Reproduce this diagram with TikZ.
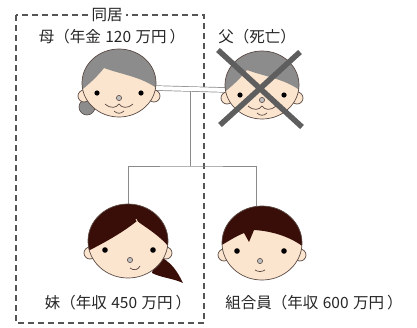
\documentclass[tikz,border=0pt]{standalone}
\usepackage{fontspec}
\usepackage{tikz}
\newfontfamily\jpfont{Noto Sans CJK JP}
\newcommand{\jpgap}{\hspace{4.5pt}}

\definecolor{skintone}{HTML}{FCE5CF}
\definecolor{faceline}{HTML}{5A4A44}
\definecolor{grayhair}{HTML}{8C8C8C}
\definecolor{darkhair}{HTML}{3A0E08}
\definecolor{kinline}{HTML}{8A8A8A}
\definecolor{crossgray}{HTML}{5E5E5E}
\definecolor{boxgray}{HTML}{555555}

\tikzset{
  skin/.style={fill=skintone, draw=faceline, line width=0.7pt},
  headspot/.style={circle, minimum size=#1, inner sep=0pt},
  headspot/.default=70pt,
  kin/.style={draw=kinline, line width=0.9pt},
  cohabit/.style={draw=boxgray, line width=1.3pt, dash pattern=on 6pt off 4pt},
  tag/.style={text=black!85, inner sep=1pt},
  feature/.style={draw=faceline, line width=0.7pt},
  nose/.style={fill=black!25, draw=faceline, line width=0.6pt},
  % old folks: grey hair and wrinkles
  elder/.pic={
    \draw[skin] (-35,13) circle (6pt) (35,13) circle (6pt);
    \fill[skintone] (0,0) ellipse [x radius=37pt, y radius=34pt];
    \begin{scope}
      \clip (0,0) ellipse [x radius=37pt, y radius=34pt];
      \fill[grayhair] (-40,9) -- (-40,-40) -- (40,-40) -- (40,7)
        .. controls (24,-6) and (4,-8) .. (-15,-15)
        .. controls (-22,-6) and (-32,3) .. (-40,9) -- cycle;
    \end{scope}
    \draw[faceline, line width=0.7pt] (0,0) ellipse [x radius=37pt, y radius=34pt];
    \fill (-22,10) circle (2.6pt) (22,10) circle (2.6pt);
    \draw[nose] (0,15) circle (2.6pt);
    \draw[feature] (-14,21) .. controls (-8,26) and (-3,25) .. (0,21)
      .. controls (3,25) and (8,26) .. (14,21);
    \draw[feature] (-5,28) .. controls (-2,31) and (2,31) .. (5,28);
  },
  bun/.pic={
    \draw[fill=grayhair, draw=faceline, line width=0.6pt] (-32,24) circle (8pt);
  },
  girl/.pic={
    % ponytail behind the head
    \fill[darkhair] (28,14) .. controls (44,20) and (50,32) .. (55,42)
      .. controls (44,37) and (34,37) .. (24,32) -- cycle;
    \draw[skin] (-38,12) circle (6pt) (38,12) circle (6pt);
    \fill[skintone] (0,0) ellipse [x radius=40pt, y radius=37pt];
    \begin{scope}
      \clip (0,0) ellipse [x radius=40pt, y radius=37pt];
      \fill[darkhair] (-44,12) -- (-44,-44) -- (44,-44) -- (44,10)
        .. controls (34,-4) and (20,-12) .. (9,-20)
        .. controls (-6,-8) and (-24,2) .. (-44,12) -- cycle;
      \draw[skintone, line width=0.8pt] (8,-22) .. controls (13,-12) and (19,-4) .. (24,2);
    \end{scope}
    \draw[faceline, line width=0.7pt] (0,0) ellipse [x radius=40pt, y radius=37pt];
    \fill (-23,9) circle (2.8pt) (25,9) circle (2.8pt);
    \draw[nose] (2,19) circle (2.6pt);
    \draw[feature] (2,27) .. controls (6,30) and (10,29) .. (12,25);
  },
  boy/.pic={
    \draw[skin] (-38,12) circle (6pt) (38,12) circle (6pt);
    \fill[skintone] (0,0) ellipse [x radius=40pt, y radius=37pt];
    \begin{scope}
      \clip (0,0) ellipse [x radius=40pt, y radius=37pt];
      \fill[darkhair] (-44,4) -- (-44,-44) -- (44,-44) -- (44,6)
        .. controls (30,-6) and (10,-12) .. (-8,-13) -- (-13,-1) -- (-18,-10)
        .. controls (-28,-6) and (-36,0) .. (-44,4) -- cycle;
    \end{scope}
    \draw[faceline, line width=0.7pt] (0,0) ellipse [x radius=40pt, y radius=37pt];
    \fill (-25,8) circle (2.8pt) (22,8) circle (2.8pt);
    \draw[nose] (-2,18) circle (2.6pt);
    \draw[feature] (-7,27) .. controls (-4,29) and (0,29) .. (3,27);
  },
}

\begin{document}
\begin{tikzpicture}[x=1pt, y=-1pt, font=\jpfont\fontsize{15.5}{18}\selectfont]
   \useasboundingbox (0,0) rectangle (417,327);

   % household
   \draw[cohabit] (16,15) rectangle (204,323);
   \node[tag, fill=white, inner xsep=3pt] (together) at (107,15) {同居};

   \node[headspot] (mother) at (119,83) {};
   \node[headspot] (father) at (262,85) {};
   \node[headspot=74pt] (sister) at (128,241) {};
   \node[headspot=74pt] (member) at (262,243) {};

   \node[tag] (motherlabel) at (112,37) {母（年金\jpgap 120\jpgap 万円\hspace{3pt}）};
   \node[tag] (fatherlabel) at (257,37) {父（死亡）};
   \node[tag] (sisterlabel) at (118,303) {妹（年収\jpgap 450\jpgap 万円\hspace{3pt}）};
   \node[tag] (memberlabel) at (314,303) {組合員（年収\jpgap 600\jpgap 万円\hspace{3pt}）};

   % family lines
   \path ([yshift=-5pt]mother.east) -- coordinate[midway] (couple) ([yshift=-5pt]father.west);
   \draw[kin] (couple) -- ++(0,77) coordinate (fork);
   \draw[kin] (sister.north) |- (fork) -| ([xshift=-6pt]member.north);
   \draw[kin, double=white, double distance=4pt, line width=0.7pt]
      ([yshift=-5pt]mother.east) -- ([yshift=-5pt]father.west);

   % faces
   \pic at (mother) {bun};
   \pic at (mother) {elder};
   \pic at (father) {elder};
   \pic at (sister) {girl};
   \pic at (member) {boy};

   \draw[crossgray, line width=5.5pt]
      ([shift={(-44pt,35pt)}]father.center) -- ([shift={(40pt,-42pt)}]father.center)
      ([shift={(38pt,33pt)}]father.center) -- ([shift={(-42pt,-40pt)}]father.center);
\end{tikzpicture}
\end{document}
